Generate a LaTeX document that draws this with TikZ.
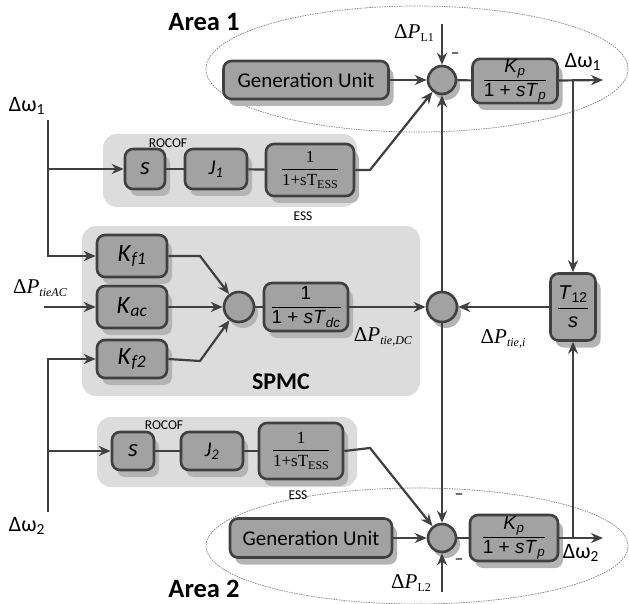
\documentclass[tikz,border=0pt]{standalone}
\usepackage{fontspec}
\usepackage{amsmath}
\setmainfont{Carlito}
\newfontfamily\tnr{Liberation Serif}
\newfontfamily\ars{Liberation Sans}
\usetikzlibrary{arrows.meta}
\definecolor{boxgray}{HTML}{A2A2A2}
\definecolor{edgegray}{HTML}{404040}
\definecolor{bggray}{HTML}{DCDCDC}
\definecolor{shgray}{HTML}{B4B4B4}
\newcommand{\fr}[2]{$\displaystyle\frac{\text{#1}}{\text{#2}}$}
\newcommand{\sub}[1]{\textsubscript{#1}}
\newcommand{\ssub}[1]{\raisebox{-0.35ex}{\fontsize{12}{12}\selectfont #1}}
\begin{document}
\begin{tikzpicture}[x=1pt,y=-1pt,
  blk/.style={draw=edgegray, line width=2.6pt, fill=boxgray, rounded corners=8pt, inner sep=1pt, align=center,
    preaction={fill=shgray, draw=none, transform canvas={xshift=5pt, yshift=-7pt}}},
  sumc/.style={circle, draw=edgegray, line width=2.6pt, fill=boxgray, minimum size=28pt, inner sep=0pt,
    preaction={fill=shgray, draw=none, transform canvas={xshift=4pt, yshift=-6pt}}},
  grp/.style={fill=bggray, rounded corners=14pt},
  wire/.style={draw=edgegray, line width=2.2pt},
  arr/.style={wire, -{Stealth[length=12pt, width=10pt]}},
  area/.style={draw=gray, dash pattern=on 1.5pt off 1pt, line width=0.7pt},
  big/.style={font=\fontsize{21}{23}\selectfont},
  kbig/.style={font=\fontsize{25}{27}\selectfont},
  afrac/.style={font=\ars\fontsize{19}{21}\selectfont},
  tiny/.style={font=\fontsize{13.5}{15}\selectfont},
  serif/.style={font=\tnr\fontsize{21}{23}\selectfont},
  head/.style={font=\bfseries\fontsize{26.5}{28}\selectfont}]
\useasboundingbox (0,0) rectangle (629,604);

\draw[area] (417,69) ellipse [x radius=211pt, y radius=63pt];
\draw[area] (417,546) ellipse [x radius=211pt, y radius=58pt];
\fill[grp] (103,134) rectangle (357,207);
\fill[grp] (82,226) rectangle (420,396);
\fill[grp] (97,417) rectangle (357,487);

\node[blk, big, minimum width=165pt, minimum height=38pt] (gen1) at (306,80) {Generation Unit};
\node[sumc] (sum1) at (442,80) {};
\node[blk, afrac, minimum width=85pt, minimum height=44pt] (kp1) at (515,81) {\fr{\textit{K}\sub{\textit{p}}}{1 + \textit{sT}\sub{\textit{p}}}};
\node[blk, kbig, minimum width=40pt, minimum height=40pt] (s1) at (145,169) {\textit{s}};
\node[blk, big, minimum width=62pt, minimum height=40pt] (j1) at (216,169) {\textit{J}\sub{\textit{1}}};
\node[blk, minimum width=88pt, minimum height=52pt, font=\tnr\fontsize{17}{19}\selectfont] (ess1) at (310,170) {\fr{1}{1+sT\ssub{ESS}}};

\node[blk, kbig, minimum width=70pt, minimum height=42pt] (kf1) at (132,256) {\textit{K}\sub{\textit{f1}}};
\node[blk, kbig, minimum width=70pt, minimum height=42pt] (kac) at (132,307) {\textit{K}\sub{\textit{ac}}};
\node[blk, kbig, minimum width=70pt, minimum height=38pt] (kf2) at (132,359) {\textit{K}\sub{\textit{f2}}};
\node[sumc, minimum size=30pt] (sumS) at (239,307) {};
\node[blk, afrac, minimum width=84pt, minimum height=48pt] (dc) at (306,307) {\fr{1}{1 + \textit{sT}\sub{\textit{dc}}}};
\node[sumc, minimum size=30pt] (sumM) at (442,307) {};
\node[blk, afrac, font=\ars\fontsize{20}{22}\selectfont, minimum width=45pt, minimum height=67pt] (t12) at (573,307) {\fr{\textit{T}\sub{12}}{\textit{s}}};

\node[blk, kbig, minimum width=42pt, minimum height=38pt] (s2) at (133,451) {\textit{s}};
\node[blk, big, minimum width=62pt, minimum height=38pt] (j2) at (212,451) {\textit{J}\sub{\textit{2}}};
\node[blk, minimum width=84pt, minimum height=56pt, font=\tnr\fontsize{17}{19}\selectfont] (ess2) at (301,451) {\fr{1}{1+sT\ssub{ESS}}};
\node[blk, big, minimum width=162pt, minimum height=39pt] (gen2) at (311,538) {Generation Unit};
\node[sumc] (sum2) at (442,538) {};
\node[blk, afrac, minimum width=88pt, minimum height=46pt] (kp2) at (514,538) {\fr{\textit{K}\sub{\textit{p}}}{1 + \textit{sT}\sub{\textit{p}}}};

\coordinate (pl1) at (442,24);
\coordinate (pl2) at (442,592);
\coordinate (w1) at (603,80);
\coordinate (w2) at (603,538);
\coordinate (b1) at (573,80);
\coordinate (b2) at (573,538);
\coordinate (w1in) at (48,120);
\coordinate (w2in) at (48,512);
\coordinate (pac) at (44,307);

\draw[wire] (s1) -- (j1);
\draw[wire] (j1) -- (ess1);
\draw[arr] (ess1.east) -- (370,170) -- (sum1);
\draw[wire] (s2) -- (j2);
\draw[wire] (j2) -- (ess2);
\draw[arr] (ess2.east) -- (370,448) -- (sum2);
\draw[arr] (gen1) -- (sum1);
\draw[wire] (sum1) -- (kp1);
\draw[arr] (kp1) -- (w1);
\draw[arr] (gen2) -- (sum2);
\draw[wire] (sum2) -- (kp2);
\draw[arr] (kp2) -- (w2);
\draw[arr] (pl1) -- (sum1);
\draw[arr] (pl2) -- (sum2);
\draw[arr] (b1) -- (t12);
\draw[arr] (b2) -- (t12);
\draw[arr] (t12) -- (sumM);
\draw[arr] (sumM) -- (sum1);
\draw[arr] (sumM) -- (sum2);
\draw[arr] (dc) -- (sumM);
\draw[wire] (sumS) -- (dc);
\draw[arr] (kac) -- (sumS);
\draw[arr] (kf1.east) -- (200,256) -- (sumS);
\draw[arr] (kf2.east) -- (200,361) -- (sumS);
\draw[arr] (w1in) |- (kf1);
\draw[arr] (w1in |- s1) -- (s1);
\draw[arr] (w2in) |- (kf2);
\draw[arr] (w2in |- s2) -- (s2);
\draw[arr] (pac) -- (kac);

\node[head] (area1) at (204,22) {Area 1};
\node[head] (area2) at (204,589) {Area 2};
\node[head, font=\bfseries\fontsize{24}{26}\selectfont] (spmc) at (281,382) {SPMC};
\node[font=\fontsize{22}{24}\selectfont] (lw1) at (27,106) {Δω\sub{1}};
\node[font=\fontsize{22}{24}\selectfont] (lw2) at (27,526) {Δω\sub{2}};
\node[font=\fontsize{22}{24}\selectfont] (ow1) at (583,62) {Δω\sub{1}};
\node[font=\fontsize{22}{24}\selectfont] (ow2) at (581,553) {Δω\sub{2}};
\node[tiny] (roc1) at (168,143) {ROCOF};
\node[tiny] (roc2) at (164,425) {ROCOF};
\node[tiny] (lbess1) at (303,216) {ESS};
\node[tiny] (lbess2) at (298,495) {ESS};
\node[serif] (lpl1) at (414,33) {Δ\textit{P}\ssub{L1}};
\node[serif] (lpl2) at (411,583) {Δ\textit{P}\ssub{L2}};
\node[serif] (lac) at (40,288) {Δ\textit{P}\ssub{\textit{tieAC}}};
\node[serif] (ldc) at (383,337) {Δ\textit{P}\ssub{\textit{tie,DC}}};
\node[serif] (lti) at (503,339) {Δ\textit{P}\ssub{\textit{tie,i}}};
\node[font=\fontsize{18}{20}\selectfont] (m1) at (455,56) {–};
\node[font=\fontsize{18}{20}\selectfont] (m2) at (459,497) {–};
\node[font=\fontsize{18}{20}\selectfont] (m3) at (459,562) {–};
\end{tikzpicture}
\end{document}
